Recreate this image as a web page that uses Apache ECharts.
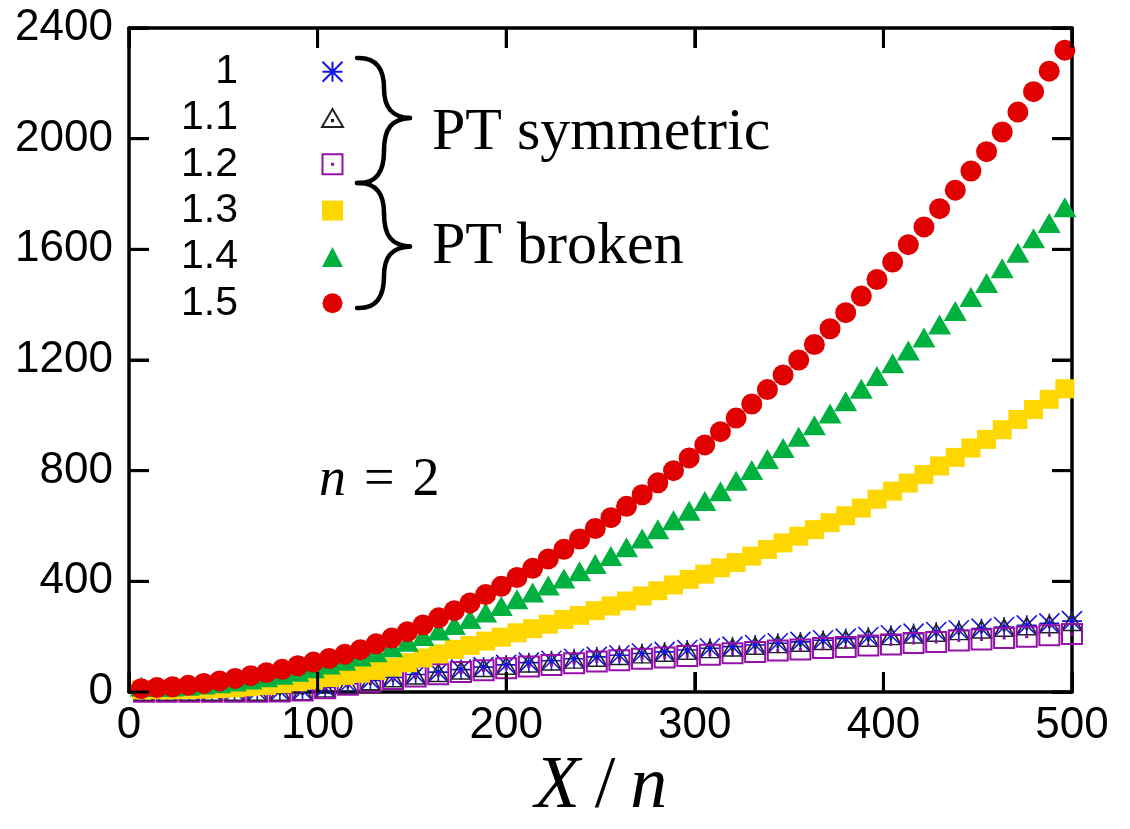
<!DOCTYPE html>
<html>
<head>
<meta charset="utf-8">
<script src="https://cdn.jsdelivr.net/npm/echarts@6/dist/echarts.min.js"></script>
<style>
html,body{margin:0;padding:0;background:#fff;}
#chart{width:1130px;height:829px;}
</style>
</head>
<body>
<div id="chart"></div>
<script>
// ---- data ----
const seriesNames = ['1', '1.1', '1.2', '1.3', '1.4', '1.5'];
const xTicks = [0, 100, 200, 300, 400, 500];
const yTicks = [0, 400, 800, 1200, 1600, 2000, 2400];

// PT-symmetric samples (a = 1, 1.1, 1.2)
const xSym = [8, 20, 32, 44, 56, 68, 80, 92, 104, 116, 128, 140, 152, 164, 176, 188, 200, 212, 224, 236,
  248, 260, 272, 284, 296, 308, 320, 332, 344, 356, 368, 380, 392, 404, 416, 428, 440, 452, 464, 476, 488, 500];
const y10 = [2, 2, 2, 2, 2, 2, 3, 6, 16, 30, 42, 53, 63, 72, 81, 90, 98, 106, 113, 120,
  127, 133, 139, 145, 152, 158, 164, 170, 176, 181, 187, 193, 199, 205, 211, 217, 223, 229, 235, 241, 248, 256];
const y11 = [1, 1, 1, 1, 1, 1, 1, 3, 13, 27, 39, 50, 60, 69, 78, 87, 95, 103, 110, 117,
  124, 130, 136, 142, 149, 155, 161, 167, 173, 178, 184, 190, 196, 202, 208, 214, 220, 226, 232, 238, 245, 253];
const y12 = [1, 1, 1, 1, 1, 1, 2, 5, 14, 26, 37, 47, 56, 64, 72, 79, 86, 92, 98, 104,
  110, 115, 120, 125, 130, 135, 140, 145, 150, 154, 159, 163, 168, 172, 177, 181, 186, 190, 195, 200, 205, 210];

// PT-broken samples (a = 1.3, 1.4, 1.5)
const xBroken = [6.5, 14.8, 23.1, 31.4, 39.7, 48.0, 56.3, 64.6, 72.9, 81.2,
  89.5, 97.8, 106.1, 114.4, 122.7, 131.0, 139.3, 147.6, 155.9, 164.2,
  172.5, 180.8, 189.1, 197.4, 205.7, 214.0, 222.3, 230.6, 238.9, 247.2,
  255.5, 263.8, 272.1, 280.4, 288.7, 297.0, 305.3, 313.6, 321.9, 330.2,
  338.5, 346.8, 355.1, 363.4, 371.7, 380.0, 388.3, 396.6, 404.9, 413.2,
  421.5, 429.8, 438.1, 446.4, 454.7, 463.0, 471.3, 479.6, 487.9, 496.2];
const y13 = [8, 8, 8, 9, 10, 12, 15, 19, 24, 30,
  37, 44, 52, 60, 68, 78, 90, 106, 123, 138,
  154, 168, 184, 198, 214, 229, 245, 262, 277, 294,
  311, 329, 347, 366, 387, 407, 426, 449, 468, 491,
  515, 539, 563, 587, 612, 637, 665, 697, 726, 755,
  786, 817, 848, 882, 913, 948, 985, 1021, 1058, 1096];
const y14 = [20, 18, 20, 23, 27, 32, 38, 45, 53, 62,
  73, 86, 99, 113, 128, 144, 162, 182, 202, 222,
  242, 264, 287, 311, 335, 360, 385, 410, 436, 463,
  492, 523, 555, 588, 621, 655, 690, 726, 764, 802,
  842, 882, 923, 964, 1007, 1051, 1096, 1142, 1188, 1234,
  1281, 1328, 1377, 1428, 1478, 1532, 1588, 1640, 1695, 1752];
const y15 = [12, 16, 19, 24, 31, 40, 49, 59, 70, 82,
  95, 108, 121, 136, 153, 174, 195, 218, 242, 268,
  294, 322, 352, 382, 414, 447, 481, 516, 553, 591,
  630, 671, 713, 756, 800, 846, 893, 941, 990, 1041,
  1093, 1146, 1200, 1256, 1313, 1371, 1431, 1491, 1554, 1617,
  1681, 1747, 1814, 1883, 1953, 2024, 2096, 2170, 2244, 2320];

const labelSym = 'PT symmetric';
const labelBroken = 'PT broken';

// ---- chart ----
(function () {
function pairs(xs, ys) { return xs.map((x, i) => [x, ys[i]]); }

const chart = echarts.init(document.getElementById('chart'), null, { renderer: 'canvas' });

const xMin = xTicks[0], xMax = xTicks[xTicks.length - 1], xInt = xTicks[1] - xTicks[0];
const yMin = yTicks[0], yMax = yTicks[yTicks.length - 1], yInt = yTicks[1] - yTicks[0];
const TICK_LEN = 20, TICK_W = 3;
const G = { left: 129, right: 58, top: 28, bottom: 137 };
const W = 1130, H = 829;

function mkAxis(type, pos, showLabel, margin) {
  return {
    type: 'value', position: pos,
    min: type === 'x' ? xMin : yMin, max: type === 'x' ? xMax : yMax,
    interval: type === 'x' ? xInt : yInt,
    axisLine: { show: true, onZero: false, lineStyle: { color: '#000', width: 3.5 } },
    axisTick: { show: true, inside: true, length: TICK_LEN, lineStyle: { color: '#000', width: TICK_W } },
    splitLine: { show: false },
    axisLabel: showLabel
      ? { show: true, margin: margin, fontFamily: 'Liberation Sans', fontSize: 44, color: '#000',
          formatter: v => String(v) }
      : { show: false }
  };
}

const asterisk = 'path://M10,0L10,20M0,10L20,10M0,0L20,20M20,0L0,20';
const openTri = 'path://M10,0L20,17L0,17Z M9.5,10.5L10.5,10.5L10.5,11.5L9.5,11.5Z';
const openSq = 'path://M0,0L20,0L20,20L0,20Z M9.5,9.5L10.5,9.5L10.5,10.5L9.5,10.5Z';

function brace(y0, yTip, y1) {
  const xl = 357, xv = 384, xt = 410;
  const a = y0 + 30, d = y1 - 32;
  const segs = [
    { x1: xl, y1: y0, cpx1: xl + 20, cpy1: y0 - 1, cpx2: xv, cpy2: y0 + 12, x2: xv, y2: a },
    { x1: xv, y1: a, cpx1: xv, cpy1: yTip - 10, cpx2: xv + 8, cpy2: yTip - 1, x2: xt, y2: yTip },
    { x1: xt, y1: yTip, cpx1: xv + 8, cpy1: yTip + 1, cpx2: xv, cpy2: yTip + 10, x2: xv, y2: d },
    { x1: xv, y1: d, cpx1: xv, cpy1: y1 - 12, cpx2: xl + 20, cpy2: y1 + 1, x2: xl, y2: y1 }
  ];
  return segs.map(s => ({
    type: 'bezierCurve', shape: s, silent: true,
    style: { stroke: '#000', lineWidth: 4.5, fill: null, lineCap: 'round' }
  }));
}

function scatter(idx, xs, ys, symbol, size, style) {
  return {
    name: seriesNames[idx], type: 'scatter', clip: false, data: pairs(xs, ys),
    symbol: symbol, symbolSize: size,
    itemStyle: Object.assign({ opacity: 1 }, style),
    emphasis: { disabled: true }
  };
}

// mirrored inward tick bars on all four borders (axis range mapped onto the grid box)
const plotW = W - G.left - G.right, plotH = H - G.top - G.bottom;
const sx = v => G.left + (v - xMin) / (xMax - xMin) * plotW;
const sy = v => G.top + (yMax - v) / (yMax - yMin) * plotH;
const tickGraphics = [];
function tickBar(x, y, w, h) {
  tickGraphics.push({ type: 'rect', silent: true, z: 100,
    shape: { x: x, y: y, width: w, height: h }, style: { fill: '#000' } });
}
xTicks.forEach(v => {
  const x = sx(v);
  tickBar(x - TICK_W / 2, sy(yMin) - TICK_LEN, TICK_W, TICK_LEN);
  tickBar(x - TICK_W / 2, sy(yMax), TICK_W, TICK_LEN);
});
yTicks.forEach(v => {
  const y = sy(v);
  tickBar(sx(xMin), y - TICK_W / 2, TICK_LEN, TICK_W);
  tickBar(sx(xMax) - TICK_LEN, y - TICK_W / 2, TICK_LEN, TICK_W);
});

const textGraphics = [].concat(
  brace(58, 118, 183),
  brace(183, 246.5, 308),
  [
    { type: 'text', x: 432, y: 133, silent: true, style: { text: labelSym, fontFamily: 'Liberation Serif', fontSize: 60,
        fill: '#000', align: 'left', verticalAlign: 'middle' } },
    { type: 'text', x: 432, y: 247, silent: true, style: { text: labelBroken, fontFamily: 'Liberation Serif', fontSize: 60,
        fill: '#000', align: 'left', verticalAlign: 'middle' } },
    { type: 'text', x: 319, y: 481, silent: true, style: {
        text: '{i|n}{r|\u2004=\u20042}', align: 'left', verticalAlign: 'middle',
        rich: { i: { fontFamily: 'Liberation Serif', fontStyle: 'italic', fontSize: 54, fill: '#000' },
                r: { fontFamily: 'Liberation Serif', fontSize: 54, fill: '#000' } } } },
    { type: 'text', x: 601, y: 788, silent: true, style: {
        text: '{i|X}{r|\u2009/\u2009}{i|n}', align: 'center', verticalAlign: 'middle',
        rich: { i: { fontFamily: 'Liberation Serif', fontStyle: 'italic', fontSize: 74, fill: '#000' },
                r: { fontFamily: 'Liberation Serif', fontSize: 74, fill: '#000' } } } }
  ]
);

const option = {
  animation: false,
  backgroundColor: '#fff',
  grid: { left: G.left, right: G.right, top: G.top, bottom: G.bottom, outerBoundsMode: 'none', containLabel: false },
  xAxis: [mkAxis('x', 'bottom', true, 12), mkAxis('x', 'top', false, 0)],
  yAxis: [mkAxis('y', 'left', true, 16), mkAxis('y', 'right', false, 0)],
  legend: {
    orient: 'vertical', left: 181, top: 51.2, align: 'right', padding: 0, itemGap: 5.3,
    itemWidth: 21, itemHeight: 20, selectedMode: false,
    data: seriesNames,
    formatter: n => '{n|' + n + '}',
    textStyle: {
      rich: { n: { width: 80, align: 'right', fontSize: 41, fontFamily: 'Liberation Sans', color: '#000',
                   padding: [0, 79, 0, 0] } }
    }
  },
  series: [
    scatter(0, xSym, y10, asterisk, 20, { color: 'rgba(0,0,0,0)', borderColor: '#1414e8', borderWidth: 1.6 }),
    scatter(1, xSym, y11, openTri, [20, 17], { color: 'rgba(0,0,0,0)', borderColor: '#222', borderWidth: 1.6 }),
    scatter(2, xSym, y12, openSq, 20, { color: 'rgba(0,0,0,0)', borderColor: '#9410a8', borderWidth: 2 }),
    scatter(3, xBroken, y13, 'rect', 19, { color: '#ffd700' }),
    scatter(4, xBroken, y14, 'triangle', [23, 20], { color: '#00b140' }),
    scatter(5, xBroken, y15, 'circle', 21, { color: '#e00000' })
  ],
  graphic: { elements: textGraphics.concat(tickGraphics) }
};

chart.setOption(option);
})();
</script>
</body>
</html>
